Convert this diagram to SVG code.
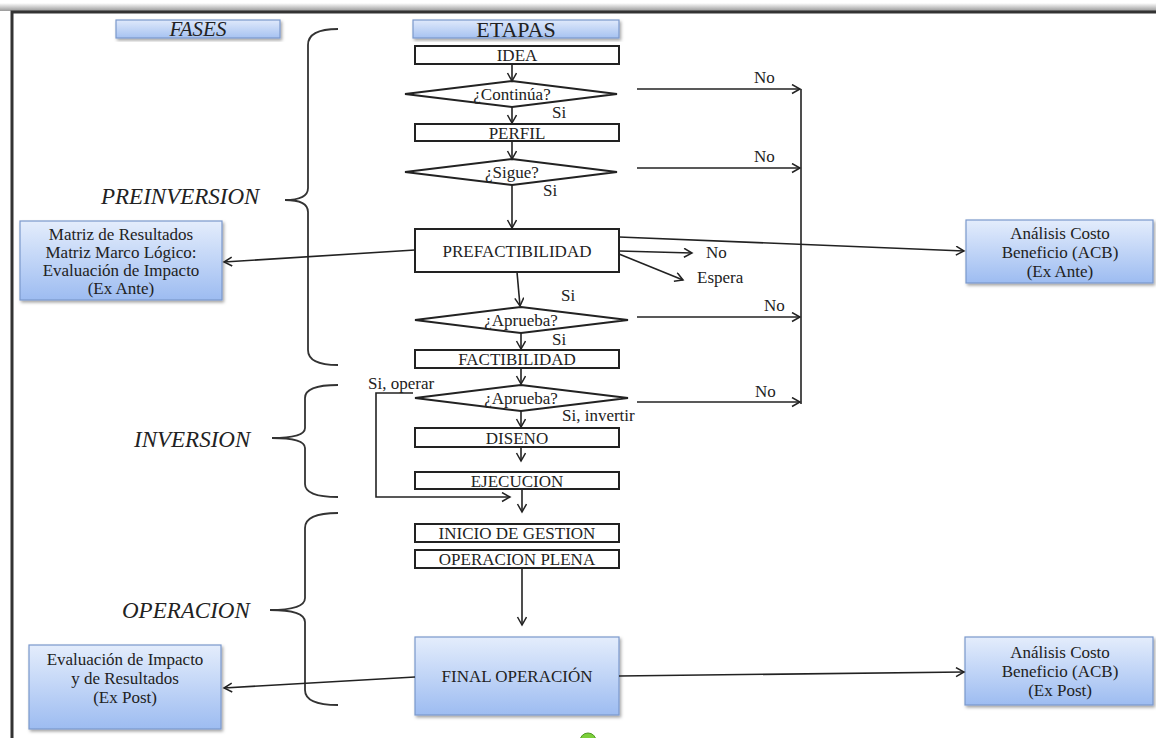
<svg xmlns="http://www.w3.org/2000/svg" width="1156" height="738" viewBox="0 0 1156 738" font-family="'Liberation Serif','DejaVu Serif','Times New Roman',serif">
<defs>
<linearGradient id="blue" x1="0" y1="0" x2="0" y2="1">
<stop offset="0" stop-color="#e4edfc"/>
<stop offset="1" stop-color="#9dbcf1"/>
</linearGradient>
<linearGradient id="hdr" x1="0" y1="0" x2="0" y2="1">
<stop offset="0" stop-color="#dfe9fb"/>
<stop offset="1" stop-color="#a6c2f1"/>
</linearGradient>
<linearGradient id="topsh" x1="0" y1="0" x2="0" y2="1">
<stop offset="0" stop-color="#fff"/>
<stop offset="1" stop-color="#999"/>
</linearGradient>
<filter id="sh" x="-10%" y="-10%" width="125%" height="130%">
<feDropShadow dx="1.5" dy="2" stdDeviation="1.5" flood-color="#000" flood-opacity="0.35"/>
</filter>
<marker id="arr" markerWidth="12" markerHeight="12" refX="9" refY="5" orient="auto" markerUnits="userSpaceOnUse">
<path d="M1,0.5 L9,5 L1,9.5" fill="none" stroke="#222" stroke-width="1.5"/>
</marker>
</defs>
<style>
.box{fill:#fff;stroke:#222;stroke-width:2}
.bbox{fill:url(#blue);stroke:#7b98cc;stroke-width:1.2;filter:url(#sh)}
.hbox{fill:url(#hdr);stroke:#7b98cc;stroke-width:1.2;filter:url(#sh)}
.dia{fill:#fff;stroke:#222;stroke-width:2}
text{font-family:'Liberation Serif','DejaVu Serif','Times New Roman',serif;fill:#222}
.t{font-size:17px;text-anchor:middle}
.l{font-size:17px}
.ph{font-size:23px;font-style:italic}
.ln{fill:none;stroke:#222;stroke-width:1.6}
.br{fill:none;stroke:#333;stroke-width:1.8}
</style>
<rect width="1156" height="738" fill="#fff"/>
<g id="frame">
<rect x="0" y="3" width="1156" height="8" fill="url(#topsh)"/>
<path d="M12,738 L12,12 L1156,12" fill="none" stroke="#333" stroke-width="3"/>
</g>

<g id="hdr-fases"><rect class="hbox" x="116" y="20" width="164" height="18"/><text class="t" x="198" y="36" style="font-style:italic;font-size:21px">FASES</text></g>
<g id="hdr-etapas"><rect class="hbox" x="413" y="20" width="206" height="18"/><text class="t" x="516" y="37" style="font-size:22px">ETAPAS</text></g>

<g id="phase-pre">
<path class="br" d="M338,29 Q308,29 308,45 L308,188 Q308,200 285,200 Q308,200 308,212 L308,350 Q308,365 338,365"/>
<text class="ph" x="101" y="204">PREINVERSION</text>
</g>
<g id="phase-inv">
<path class="br" d="M338,385 Q305,385 305,398 L305,428 Q305,438 272,438 Q305,438 305,448 L305,484 Q305,497 338,497"/>
<text class="ph" x="134" y="447">INVERSION</text>
</g>
<g id="phase-op">
<path class="br" d="M338,513 Q305,513 305,528 L305,598 Q305,610 270,610 Q305,610 305,622 L305,690 Q305,705 338,705"/>
<text class="ph" x="122" y="618">OPERACION</text>
</g>

<g id="idea"><rect class="box" x="415" y="46" width="204" height="18"/><text class="t" x="517" y="61">IDEA</text></g>
<g id="continua"><polygon class="dia" points="405,94 512,81 617,94 512,107"/><text class="t" x="512" y="100">¿Continúa?</text></g>
<g id="perfil"><rect class="box" x="415" y="124" width="204" height="17"/><text class="t" x="517" y="139">PERFIL</text></g>
<g id="sigue"><polygon class="dia" points="405,172 512,159 617,172 512,185"/><text class="t" x="512" y="178">¿Sigue?</text></g>
<g id="prefact"><rect class="box" x="415" y="229" width="204" height="43"/><text class="t" x="517" y="257">PREFACTIBILIDAD</text></g>
<g id="aprueba1"><polygon class="dia" points="415,320 521,307 628,320 521,333"/><text class="t" x="521" y="326">¿Aprueba?</text></g>
<g id="fact"><rect class="box" x="415" y="350" width="204" height="18"/><text class="t" x="517" y="365">FACTIBILIDAD</text></g>
<g id="aprueba2"><polygon class="dia" points="415,398 521,385 628,398 521,411"/><text class="t" x="521" y="404">¿Aprueba?</text></g>
<g id="diseno"><rect class="box" x="415" y="428" width="204" height="19"/><text class="t" x="517" y="444">DISENO</text></g>
<g id="ejecucion"><rect class="box" x="415" y="472" width="204" height="17"/><text class="t" x="517" y="487">EJECUCION</text></g>
<g id="inicio"><rect class="box" x="415" y="524" width="204" height="18"/><text class="t" x="517" y="539">INICIO DE GESTION</text></g>
<g id="plena"><rect class="box" x="415" y="550" width="204" height="18"/><text class="t" x="517" y="565">OPERACION PLENA</text></g>
<g id="final"><rect class="bbox" x="415" y="637" width="204" height="78"/><text class="t" x="517" y="682">FINAL OPERACIÓN</text></g>

<g id="matriz"><rect class="bbox" x="20" y="221" width="202" height="79"/>
<text class="t" x="121" y="240">Matriz de Resultados</text>
<text class="t" x="121" y="258">Matriz Marco Lógico:</text>
<text class="t" x="121" y="276">Evaluación de Impacto</text>
<text class="t" x="121" y="294">(Ex Ante)</text></g>
<g id="acb-ante"><rect class="bbox" x="966" y="220" width="187" height="63"/>
<text class="t" x="1060" y="239">Análisis Costo</text>
<text class="t" x="1060" y="258">Beneficio (ACB)</text>
<text class="t" x="1060" y="277">(Ex Ante)</text></g>
<g id="eval-post"><rect class="bbox" x="29" y="645" width="192" height="84"/>
<text class="t" x="125" y="665">Evaluación de Impacto</text>
<text class="t" x="125" y="684">y de Resultados</text>
<text class="t" x="125" y="703">(Ex Post)</text></g>
<g id="acb-post"><rect class="bbox" x="965" y="637" width="188" height="68"/>
<text class="t" x="1060" y="658">Análisis Costo</text>
<text class="t" x="1060" y="677">Beneficio (ACB)</text>
<text class="t" x="1060" y="696">(Ex Post)</text></g>

<g id="connectors">
<path class="ln" marker-end="url(#arr)" d="M512,64 L512,81"/>
<path class="ln" marker-end="url(#arr)" d="M512,107 L512,123"/>
<path class="ln" marker-end="url(#arr)" d="M512,141 L512,159"/>
<path class="ln" marker-end="url(#arr)" d="M512,185 L512,228"/>
<path class="ln" marker-end="url(#arr)" d="M637,89 L800,89"/>
<path class="ln" marker-end="url(#arr)" d="M637,168 L800,168"/>
<path class="ln" marker-end="url(#arr)" d="M637,317 L800,317"/>
<path class="ln" marker-end="url(#arr)" d="M637,402 L800,402"/>
<path class="ln" d="M801,89 L801,404"/>
<path class="ln" marker-end="url(#arr)" d="M619,237 L964,251"/>
<path class="ln" marker-end="url(#arr)" d="M619,251 L692,253"/>
<path class="ln" marker-end="url(#arr)" d="M619,254 L683,280"/>
<path class="ln" marker-end="url(#arr)" d="M415,250 L224,262"/>
<path class="ln" marker-end="url(#arr)" d="M517,272 L520,306"/>
<path class="ln" marker-end="url(#arr)" d="M521,333 L521,349"/>
<path class="ln" marker-end="url(#arr)" d="M521,368 L521,384"/>
<path class="ln" marker-end="url(#arr)" d="M521,411 L521,427"/>
<path class="ln" marker-end="url(#arr)" d="M521,447 L521,461"/>
<path class="ln" marker-end="url(#arr)" d="M522,489 L522,512"/>
<path class="ln" marker-end="url(#arr)" d="M413,393 L376,393 L376,497 L510,497"/>
<path class="ln" marker-end="url(#arr)" d="M522,568 L522,625"/>
<path class="ln" marker-end="url(#arr)" d="M415,677 L224,688"/>
<path class="ln" marker-end="url(#arr)" d="M619,676 L964,672"/>
</g>

<g id="labels">
<text class="l" x="754" y="83">No</text>
<text class="l" x="552" y="118">Si</text>
<text class="l" x="754" y="162">No</text>
<text class="l" x="543" y="196">Si</text>
<text class="l" x="706" y="258">No</text>
<text class="l" x="697" y="283">Espera</text>
<text class="l" x="561" y="301">Si</text>
<text class="l" x="764" y="311">No</text>
<text class="l" x="552" y="345">Si</text>
<text class="l" x="755" y="397">No</text>
<text class="l" x="562" y="421">Si, invertir</text>
<text class="l" x="368" y="389">Si, operar</text>
</g>
<circle cx="588" cy="741" r="8" fill="#7ccf3a" stroke="#4f9a25" stroke-width="1"/>
</svg>
